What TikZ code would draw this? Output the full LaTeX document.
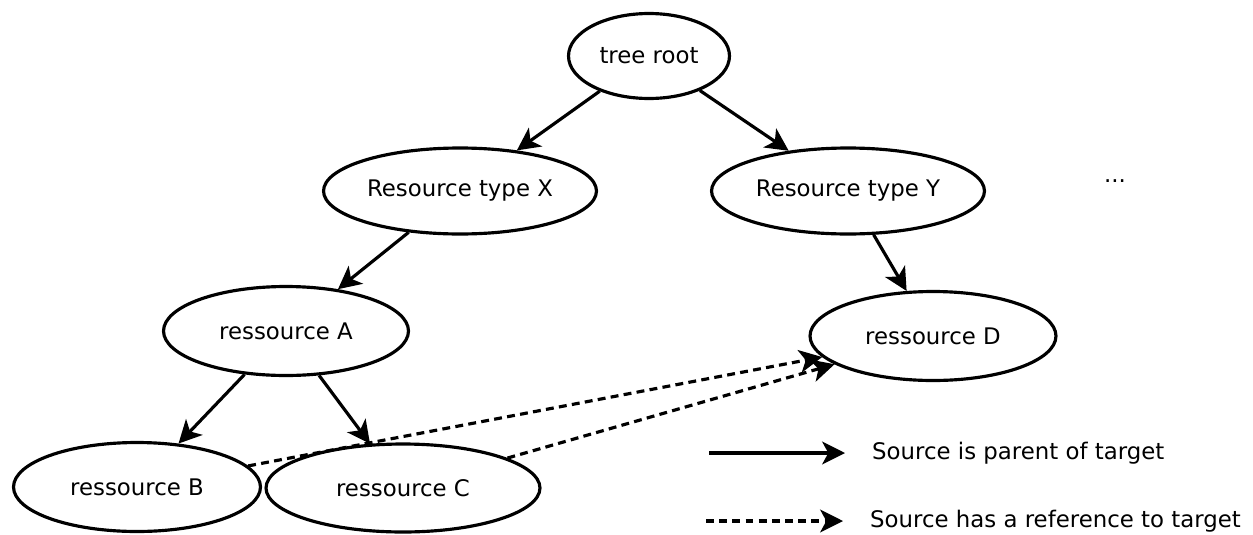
\documentclass[tikz,border=0pt]{standalone}
\usepackage{fontspec}
\setmainfont{DejaVu Sans}
\usetikzlibrary{shapes.geometric, arrows.meta}

\tikzset{
    res/.style={ellipse, draw, line width=1.8pt, inner sep=0pt,
        font=\fontsize{13}{15}\selectfont},
    parent/.style={line width=1.8pt, -{Stealth[length=13pt, width=13pt, inset=3.5pt]}},
    refer/.style={parent, dash pattern=on 4.5pt off 3pt},
}

\begin{document}
\begin{tikzpicture}[x=0.02cm, y=-0.02cm]
    \useasboundingbox (0,0) rectangle (1253,534);

    % Tree nodes
    \node[res, minimum width=3.22cm, minimum height=1.7cm] (root) at (649,56) {tree root};
    \node[res, minimum width=5.46cm, minimum height=1.72cm] (typeX) at (460,191) {Resource type X};
    \node[res, minimum width=5.46cm, minimum height=1.72cm] (typeY) at (848,191) {Resource type Y};
    \node[font=\fontsize{13}{15}\selectfont] (more) at (1115,181) {...};
    \node[res, minimum width=4.9cm, minimum height=1.78cm] (resA) at (286,331) {ressource A};
    \node[res, minimum width=4.92cm, minimum height=1.78cm] (resD) at (933,336) {ressource D};
    \node[res, minimum width=4.94cm, minimum height=1.78cm] (resB) at (137,487) {ressource B};
    \node[res, minimum width=5.48cm, minimum height=1.76cm] (resC) at (403,488) {ressource C};

    % Parent edges
    \draw[parent] (root) -- (typeX);
    \draw[parent] (root) -- (typeY);
    \draw[parent] (typeX) -- (resA);
    \draw[parent] (typeY) -- (resD);
    \draw[parent] (resA) -- (resB);
    \draw[parent] (resA) -- (resC);

    % References
    \draw[refer] (resB) -- (resD);
    \draw[refer] (resC) -- (resD);

    % Legend
    \coordinate (solidA) at (709,453);
    \coordinate (solidB) at (845,453);
    \coordinate (dashA) at (706,521);
    \coordinate (dashB) at (843,521);
    \draw[parent] (solidA) -- (solidB);
    \draw[refer] (dashA) -- (dashB);
    \node[anchor=west, font=\fontsize{13}{15}\selectfont] (legParent) at (866,453) {Source is parent of target};
    \node[anchor=west, font=\fontsize{13}{15}\selectfont] (legRef) at (864,521) {Source has a reference to target};
\end{tikzpicture}
\end{document}
